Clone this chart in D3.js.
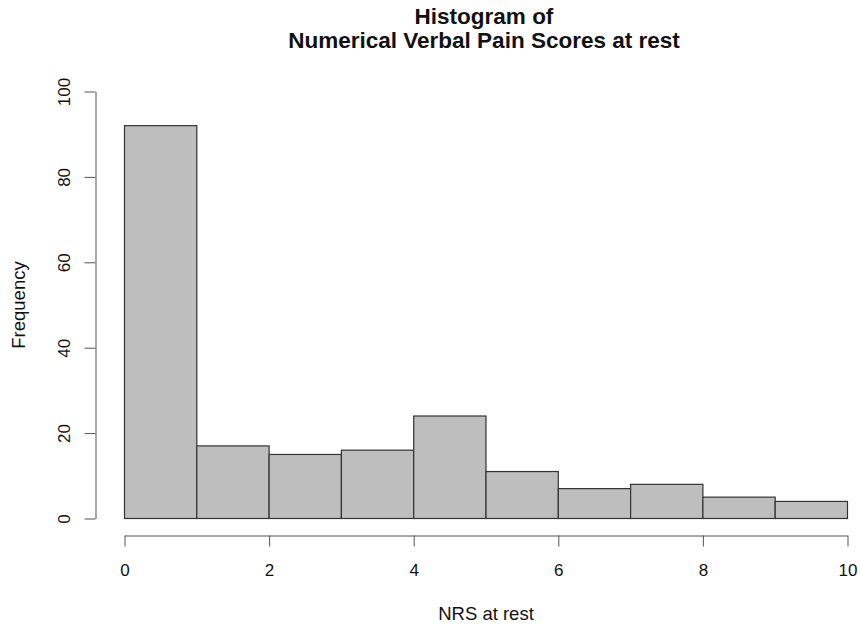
<!DOCTYPE html>
<html>
<head>
<meta charset="utf-8">
<script src="https://cdn.jsdelivr.net/npm/d3@7"></script>
<style>
  body { margin: 0; background: #fff; }
  svg { display: block; font-family: "Liberation Sans", Arial, sans-serif; }
</style>
</head>
<body>
<svg id="chart"></svg>
<script>
// histogram bins (edges) and counts
const binEdges = [0, 1, 2, 3, 4, 5, 6, 7, 8, 9, 10];
const counts = [92, 17, 15, 16, 24, 11, 7, 8, 5, 4];
const xTicks = [0, 2, 4, 6, 8, 10];
const yTicks = [0, 20, 40, 60, 80, 100];
const titleLines = ['Histogram of', 'Numerical Verbal Pain Scores at rest'];

const W = 861, H = 628;
const svg = d3.select('#chart').attr('width', W).attr('height', H);

const x = d3.scaleLinear().domain([0, 10]).range([124.5, 847.5]);
const y = d3.scaleLinear().domain([0, 100]).range([518.5, 91.5]);

const bins = counts.map((c, i) => ({ x0: binEdges[i], x1: binEdges[i + 1], n: c }));

// bars
svg.append('g')
  .selectAll('rect')
  .data(bins)
  .join('rect')
  .attr('x', d => x(d.x0))
  .attr('y', d => y(d.n))
  .attr('width', d => x(d.x1) - x(d.x0))
  .attr('height', d => y(0) - y(d.n))
  .attr('fill', '#bebebe')
  .attr('stroke', '#333')
  .attr('stroke-width', 1.2);

// x axis, offset below the plot like base R
const xAxis = svg.append('g')
  .attr('transform', 'translate(0,535.5)')
  .call(d3.axisBottom(x).tickValues(xTicks).tickSize(11).tickPadding(17).tickSizeOuter(0));

// y axis
const yAxis = svg.append('g')
  .attr('transform', 'translate(95.5,0)')
  .call(d3.axisLeft(y).tickValues(yTicks).tickSize(11).tickPadding(12).tickSizeOuter(0));

[xAxis, yAxis].forEach(g => {
  g.attr('font-family', null).attr('font-size', null);
  g.select('.domain').attr('stroke', '#555');
  g.selectAll('.tick line').attr('stroke', '#555');
  g.selectAll('.tick text').attr('fill', '#111').style('font-size', '17px');
});

// rotated y tick labels
yAxis.selectAll('.tick text')
  .attr('text-anchor', 'middle')
  .attr('x', 0)
  .attr('dy', 0)
  .attr('transform', 'translate(-26,0) rotate(-90)');

// title
svg.append('g')
  .selectAll('text')
  .data(titleLines)
  .join('text')
  .attr('x', 484)
  .attr('y', (d, i) => 24 + i * 24)
  .attr('text-anchor', 'middle')
  .style('font-size', '22.5px')
  .style('font-weight', 'bold')
  .attr('fill', '#111')
  .text(d => d);

// axis labels
svg.append('text')
  .attr('x', 486)
  .attr('y', 620)
  .attr('text-anchor', 'middle')
  .style('font-size', '18.5px')
  .attr('fill', '#111')
  .text('NRS at rest');

svg.append('text')
  .attr('transform', 'translate(25,305) rotate(-90)')
  .attr('text-anchor', 'middle')
  .style('font-size', '18.5px')
  .attr('fill', '#111')
  .text('Frequency');
</script>
</body>
</html>
